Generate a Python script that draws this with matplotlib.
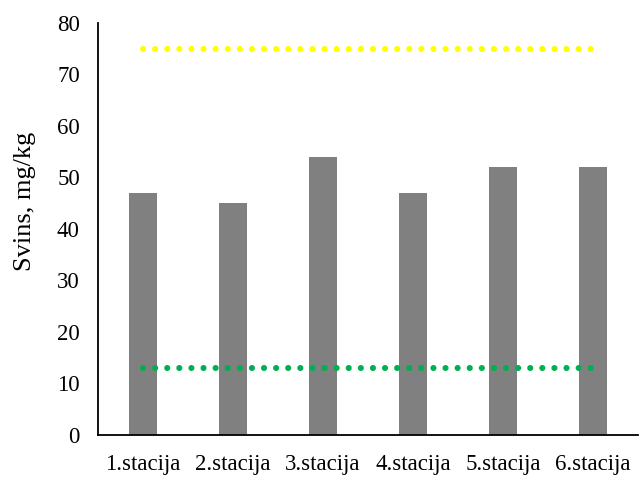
import matplotlib
matplotlib.use("Agg")
import matplotlib.pyplot as plt
import numpy as np

stations = ["1.stacija", "2.stacija", "3.stacija", "4.stacija", "5.stacija", "6.stacija"]
lead = [47, 45, 54, 47, 52, 52]
upper_limit = [75] * 6
lower_limit = [13] * 6

plt.rcParams['font.family'] = ['Liberation Serif', 'DejaVu Serif']

fig = plt.figure(figsize=(6.4, 4.78), dpi=100)
ax = fig.add_axes([0.153, 0.09, 0.844, 0.862])

x = np.arange(len(stations))
ax.bar(x, lead, width=0.32, color="#808080", zorder=2)
ax.plot(x, upper_limit, color="#ffff00", linestyle=(0, (0.01, 1.97)), linewidth=4.4,
        dash_capstyle="round", zorder=3)
ax.plot(x, lower_limit, color="#00b050", linestyle=(0, (0.01, 1.97)), linewidth=4.4,
        dash_capstyle="round", zorder=3)

ax.set_xlim(-0.5, 5.5)
ax.set_ylim(0, 80)
ax.set_yticks(range(0, 81, 10))
ax.set_xticks(x)
ax.set_xticklabels(stations)
ax.tick_params(length=0, labelsize=16.5)
ax.tick_params(axis='y', pad=13)
ax.tick_params(axis='x', pad=14)
ax.set_ylabel("Svins, mg/kg", fontsize=19)
ax.yaxis.set_label_coords(-0.115, 0.566)

for s in ["top", "right"]:
    ax.spines[s].set_visible(False)
for s in ["left", "bottom"]:
    ax.spines[s].set_linewidth(1.3)

fig.savefig("out.png", dpi=100)
